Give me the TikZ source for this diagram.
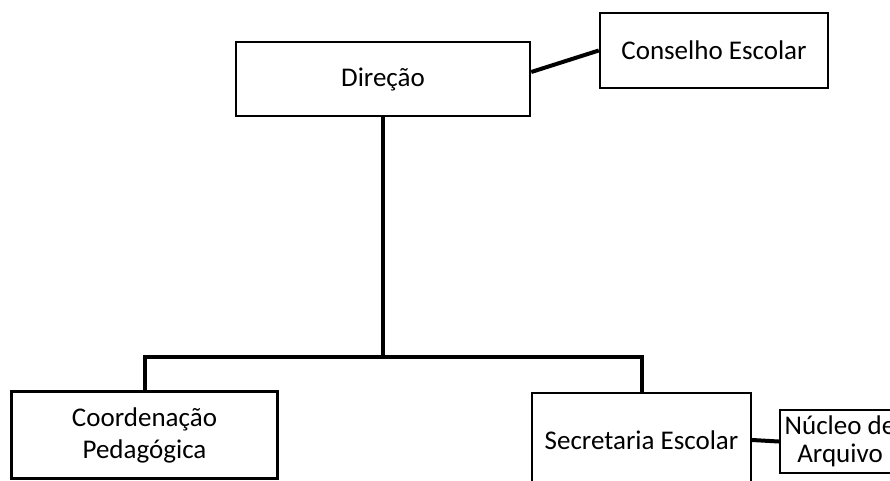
\documentclass[tikz,border=0pt]{standalone}
\usepackage{fontspec}
\setmainfont{Carlito}
\tikzset{
    orgbox/.style={shape=rectangle, draw=black, line width=2.5pt, fill=white,
        align=center, inner sep=0pt, font=\fontsize{27}{28}\selectfont},
    link/.style={draw=black, -, line width=4pt}
}
\begin{document}
\begin{tikzpicture}[x=1pt, y=-1pt]
    \useasboundingbox (0,0) rectangle (890,480);
    \clip (0,0) rectangle (890,480);

    % boxes
    \node[orgbox, minimum width=294pt, minimum height=74pt] (dir) at (383,79) {Direção};
    \node[orgbox, minimum width=228pt, minimum height=75pt] (cons) at (714,50.5) {Conselho Escolar};
    \node[orgbox, minimum width=266pt, minimum height=87pt,
          font=\fontsize{27}{32}\selectfont] (coord) at (144.5,435) {Coordenação\\Pedagógica};
    \node[orgbox, minimum width=219pt, minimum height=94pt] (sec) at (641.5,440) {Secretaria Escolar};
    \node[orgbox, minimum width=120pt, minimum height=63pt] (nuc) at (840,441.5) {Núcleo de\\Arquivo};

    % lines
    \coordinate (bus) at (383,357);
    \draw [link] ([yshift=7pt]dir.east) to (cons.west);
    \draw [link] (dir.south) to (bus);
    \draw [link] (coord.north) |- (bus) -| (sec.north);
    \draw [link, line cap=round] (sec.east) to (nuc.west);
\end{tikzpicture}
\end{document}
